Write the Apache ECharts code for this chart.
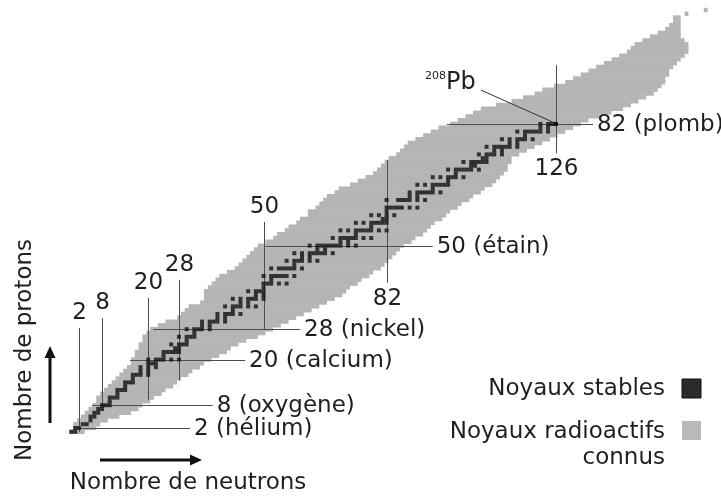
<!DOCTYPE html>
<html><head><meta charset="utf-8">
<script src="https://cdn.jsdelivr.net/npm/echarts@6/dist/echarts.min.js"></script>
<style>html,body{margin:0;padding:0;background:#fff}#c{width:721px;height:498px}</style>
</head><body><div id="c"></div>
<script>
// ---- Known nuclei band (grey): for each proton number Z, lowest and highest neutron number N
const bandZ = [];
for (let z = 1; z <= 112; z++) bandZ.push(z);
const bandNMin = [0,1,1,2,3,4,5,6,7,7,8,9,10,11,12,13,14,15,16,16,17,17,18,18,19,19,20,21,23,25,
  28,29,30,31,34,35,35,35,36,37,38,39,41,43,44,45,46,47,48,49,51,53,54,56,57,59,60,62,62,64,
  65,66,67,69,70,73,75,77,79,80,81,82,83,85,86,87,88,90,92,94,96,99,101,103,105,107,111,115,118,121,
  123,126,129,131,133,135,137,139,141,143,145,146,147,149,151,153,155,156,157,157,160,165];
const bandNMax = [3,6,7,9,12,15,17,18,20,21,23,24,26,27,28,30,31,33,34,36,38,40,41,43,45,48,50,52,54,56,
  58,60,62,64,66,68,70,71,72,74,75,77,78,80,81,82,83,84,85,86,88,89,91,92,93,94,96,97,98,100,
  101,103,104,106,107,109,110,111,112,113,113,114,114,116,118,120,122,124,126,128,130,132,134,137,140,143,145,147,149,151,
  152,153,154,154,155,155,156,157,158,159,160,160,160,159,158,158,158,158,158,158,160,165];

// ---- Stable nuclei (black): proton number and the list of stable neutron numbers
const stableZ = [];
for (let z = 1; z <= 82; z++) stableZ.push(z);
const stableN = [
  [0,1],[1,2],[3,4],[5],[5,6],[6,7],[7,8],[8,9,10],[10],[10,11,12],
  [12],[12,13,14],[14],[14,15,16],[16],[16,17,18,20],[18,20],[18,20,22],[20,21,22],[20,22,23,24,26,28],
  [24],[24,25,26,27,28],[27,28],[26,28,29,30],[30],[28,30,31,32],[32],[30,32,33,34,36],[34,36],[34,36,37,38,40],
  [38,40],[38,40,41,42,44],[42],[40,42,43,44,46,48],[44,46],[42,44,46,47,48,50],[48,50],[46,48,49,50],[50],[50,51,52,54,56],
  [52],[50,52,53,54,55,56,58],[],[52,54,55,56,57,58,60],[58],[56,58,59,60,62,64],[60,62],[58,60,62,63,64,65,66,68],[64,66],[62,64,65,66,67,68,69,70,72,74],
  [70,72],[68,70,71,72,73,74,76,78],[74],[70,72,74,75,76,77,78,80,82],[78],[74,76,78,79,80,81,82],[81,82],[78,80,82,84],[82],[82,83,84,85,86,88,90],
  [],[82,85,86,87,88,90,92],[88,90],[88,90,91,92,93,94,96],[94],[90,92,94,95,96,97,98],[98],[94,96,98,99,100,102],[100],[98,100,101,102,103,104,106],
  [104,105],[102,104,105,106,107,108],[107,108],[106,108,109,110,112],[110,112],[108,110,111,112,113,114,116],[114,116],[112,114,116,117,118,120],[118],[116,118,119,120,121,122,124],
  [122,124],[122,124,125,126]
];

// ---- Magic numbers
const magicN = [2, 8, 20, 28, 50, 82, 126];
const magicNLabels = ['2', '8', '20', '28', '50', '82', '126'];
const magicNZFrom = [0.9, 7.3, 9.4, 14.6, 27.8, 40.2, 74.3];
const magicNZTo = [28.3, 30.9, 36.2, 41.0, 56.2, 72.5, 97.5];
const magicNLabelSide = ['top', 'top', 'top', 'top', 'top', 'bottom', 'bottom'];

const magicZ = [2, 8, 20, 28, 50, 82];
const magicZLabels = ['2 (hélium)', '8 (oxygène)', '20 (calcium)', '28 (nickel)', '50 (étain)', '82 (plomb)'];
const magicZNFrom = [1.5, 5.4, 15.3, 21.3, 50.5, 97.7];
const magicZNTo = [30.9, 36.8, 45.2, 59.5, 94.0, 135.7];

const leadN = 126, leadZ = 82;

// ---- build
const FONT = '"DejaVu Sans", "Liberation Sans", sans-serif';
const TXT = '#1f1f1f';
const GREY = '#b5b5b5';
const LINE = '#4d4d4d';

const bandData = bandZ.map((z, i) => [z, bandNMin[i], bandNMax[i]]);
const stableData = [];
stableZ.forEach((z, i) => stableN[i].forEach(n => stableData.push([n, z])));
const vData = magicN.map((n, i) => [n, magicNZFrom[i], magicNZTo[i], i]);
const hData = magicZ.map((z, i) => [z, magicZNFrom[i], magicZNTo[i], i]);

const chart = echarts.init(document.getElementById('c'), null, {renderer: 'canvas'});
const gLeft = 71.3, gBottom = 62.4;
const option = {
  animation: false,
  backgroundColor: '#fff',
  grid: {left: gLeft, right: 721 - gLeft - 168 * 3.845, bottom: gBottom, top: 498 - gBottom - 114 * 3.8},
  xAxis: {type: 'value', min: 0, max: 168, show: false},
  yAxis: {type: 'value', min: 0, max: 114, show: false},
  series: [
    {
      type: 'custom', name: 'Noyaux radioactifs connus', silent: true, z: 1,
      data: bandData, encode: {x: [1, 2], y: 0},
      renderItem: (params, api) => {
        const z = api.value(0), a = api.value(1), b = api.value(2);
        const p1 = api.coord([a - 0.5, z + 0.5]);
        const p2 = api.coord([b + 0.5, z - 0.5]);
        return {type: 'rect', shape: {x: p1[0], y: p1[1] - 0.3, width: p2[0] - p1[0], height: p2[1] - p1[1] + 0.6},
          style: {fill: GREY}};
      }
    },
    {
      type: 'custom', name: 'magicN', silent: true, z: 3,
      data: vData, encode: {x: 0, y: [1, 2]},
      renderItem: (params, api) => {
        const n = api.value(0), i = api.value(3);
        const p1 = api.coord([n, api.value(2)]);
        const p2 = api.coord([n, api.value(1)]);
        const x = Math.round(p1[0]) + 0.5;
        const top = magicNLabelSide[i] === 'top';
        return {type: 'group', children: [
          {type: 'line', shape: {x1: x, y1: p1[1], x2: x, y2: p2[1]}, style: {stroke: LINE, lineWidth: 1}},
          {type: 'text', x: x, y: top ? p1[1] - 15 : p2[1] + 16,
            style: {text: magicNLabels[i], fill: TXT, fontSize: 23, fontFamily: FONT, align: 'center', verticalAlign: 'middle'}}
        ]};
      }
    },
    {
      type: 'custom', name: 'magicZ', silent: true, z: 3,
      data: hData, encode: {y: 0, x: [1, 2]},
      renderItem: (params, api) => {
        const z = api.value(0), i = api.value(3);
        const p1 = api.coord([api.value(1), z]);
        const p2 = api.coord([api.value(2), z]);
        const y = Math.round(p1[1]) + 0.5;
        return {type: 'group', children: [
          {type: 'line', shape: {x1: p1[0], y1: y, x2: p2[0], y2: y}, style: {stroke: LINE, lineWidth: 1}},
          {type: 'text', x: p2[0] + 4, y: y + 1,
            style: {text: magicZLabels[i], fill: TXT, fontSize: 23, fontFamily: FONT, align: 'left', verticalAlign: 'middle'}}
        ]};
      }
    },
    {
      type: 'scatter', name: 'Noyaux stables', silent: true, z: 4,
      data: stableData, symbol: 'rect', symbolSize: 4,
      itemStyle: {color: '#111'}
    },
    {
      type: 'custom', name: 'pb208', silent: true, z: 5,
      data: [[leadN, leadZ]], encode: {x: 0, y: 1},
      renderItem: (params, api) => {
        const p = api.coord([api.value(0), api.value(1)]);
        return {type: 'group', children: [
          {type: 'line', shape: {x1: p[0] - 1, y1: p[1] - 1, x2: p[0] - 75, y2: p[1] - 34}, style: {stroke: '#333', lineWidth: 1}},
          {type: 'circle', shape: {cx: p[0], cy: p[1], r: 2.2}, style: {fill: '#111'}},
          {type: 'text', x: p[0] - 80, y: p[1] - 41,
            style: {text: '{s|208}{b|Pb}', align: 'right', verticalAlign: 'middle', fill: TXT, fontFamily: FONT,
              rich: {s: {fontSize: 11, fontFamily: FONT, fill: TXT, verticalAlign: 'top', padding: [0, 0, 9, 0]},
                     b: {fontSize: 24, fontFamily: FONT, fill: TXT}}}}
        ]};
      }
    }
  ],
  graphic: [
    // y arrow
    {type: 'line', shape: {x1: 50, y1: 423, x2: 50, y2: 355}, style: {stroke: '#111', lineWidth: 3}},
    {type: 'polygon', shape: {points: [[50, 346], [44.5, 358], [55.5, 358]]}, style: {fill: '#111'}},
    // x arrow
    {type: 'line', shape: {x1: 100, y1: 460, x2: 193, y2: 460}, style: {stroke: '#111', lineWidth: 3}},
    {type: 'polygon', shape: {points: [[202, 460], [190, 454.5], [190, 465.5]]}, style: {fill: '#111'}},
    {type: 'text', x: 188, y: 483, style: {text: 'Nombre de neutrons', fill: TXT, fontSize: 23, fontFamily: FONT, align: 'center', verticalAlign: 'middle'}},
    {type: 'text', x: 25, y: 350, rotation: Math.PI / 2, style: {text: 'Nombre de protons', fill: TXT, fontSize: 23, fontFamily: FONT, align: 'center', verticalAlign: 'middle'}},
    // legend
    {type: 'rect', shape: {x: 682, y: 379, width: 19, height: 19}, style: {fill: '#2b2b2b', stroke: '#111', lineWidth: 1}},
    {type: 'rect', shape: {x: 682, y: 421, width: 19, height: 19}, style: {fill: '#b9b9b9'}},
    {type: 'text', x: 665, y: 389, style: {text: 'Noyaux stables', fill: TXT, fontSize: 23, fontFamily: FONT, align: 'right', verticalAlign: 'middle'}},
    {type: 'text', x: 665, y: 432, style: {text: 'Noyaux radioactifs', fill: TXT, fontSize: 23, fontFamily: FONT, align: 'right', verticalAlign: 'middle'}},
    {type: 'text', x: 665, y: 458, style: {text: 'connus', fill: TXT, fontSize: 23, fontFamily: FONT, align: 'right', verticalAlign: 'middle'}}
  ]
};
chart.setOption(option);
</script></body></html>
